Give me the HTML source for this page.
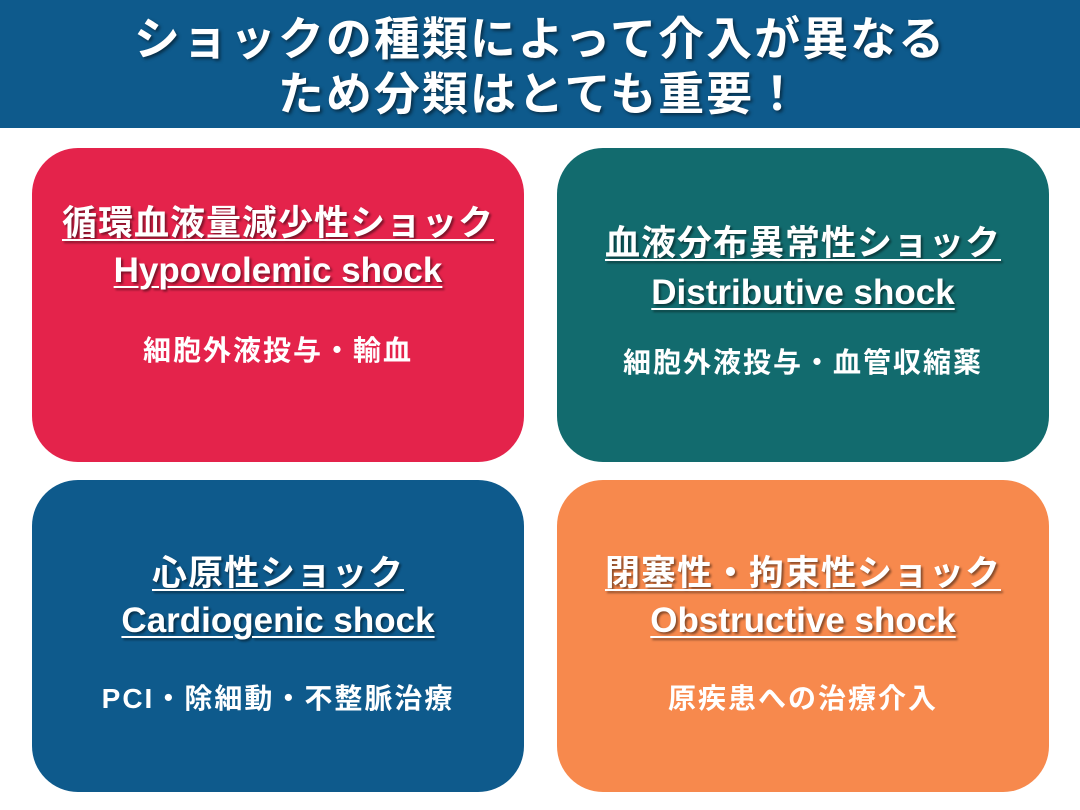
<!DOCTYPE html>
<html><head><meta charset="utf-8"><style>
body{margin:0;width:1080px;height:810px;background:#fff;position:relative;overflow:hidden;font-family:"Liberation Sans","Noto Sans CJK JP",sans-serif;font-weight:bold;color:#fff}
.hdr{position:absolute;left:0;top:0;width:1080px;height:128px;background:#0E5A8C}
.t{position:absolute;left:0;width:1080px;text-align:center;font-size:46px;letter-spacing:2px;text-shadow:2px 2px 3px rgba(0,0,0,.5);line-height:52px}
.box{position:absolute;border-radius:46px;width:492px;height:314px}
.l{position:absolute;left:0;width:100%;text-align:center;white-space:nowrap}
.h{font-size:35px;letter-spacing:1px;text-decoration:underline;text-decoration-thickness:2px;text-underline-offset:4px;text-shadow:2px 2px 2px rgba(0,0,0,.45);line-height:42px}
.e{font-size:35px;text-decoration:underline;text-decoration-thickness:2px;text-underline-offset:4px;text-shadow:2px 2px 2px rgba(0,0,0,.45);line-height:42px}
.s{font-size:28px;letter-spacing:2px;line-height:34px}
</style></head><body>
<div class="hdr"></div>
<div class="t" style="top:13px">ショックの種類によって介入が異なる</div>
<div class="t" style="top:68px">ため分類はとても重要！</div>

<div class="box" style="left:32px;top:148px;background:#E4234B">
<div class="l h" style="top:55px">循環血液量減少性ショック</div>
<div class="l e" style="top:102px">Hypovolemic shock</div>
<div class="l s" style="top:186px">細胞外液投与・輸血</div>
</div>
<div class="box" style="left:557px;top:148px;background:#126B6E">
<div class="l h" style="top:75px">血液分布異常性ショック</div>
<div class="l e" style="top:124px">Distributive shock</div>
<div class="l s" style="top:198px">細胞外液投与・血管収縮薬</div>
</div>
<div class="box" style="left:32px;top:480px;background:#0E5A8C;height:312px">
<div class="l h" style="top:73px">心原性ショック</div>
<div class="l e" style="top:120px">Cardiogenic shock</div>
<div class="l s" style="top:202px">PCI・除細動・不整脈治療</div>
</div>
<div class="box" style="left:557px;top:480px;background:#F7894D;height:312px">
<div class="l h" style="top:73px">閉塞性・拘束性ショック</div>
<div class="l e" style="top:120px">Obstructive shock</div>
<div class="l s" style="top:202px">原疾患への治療介入</div>
</div>
</body></html>
